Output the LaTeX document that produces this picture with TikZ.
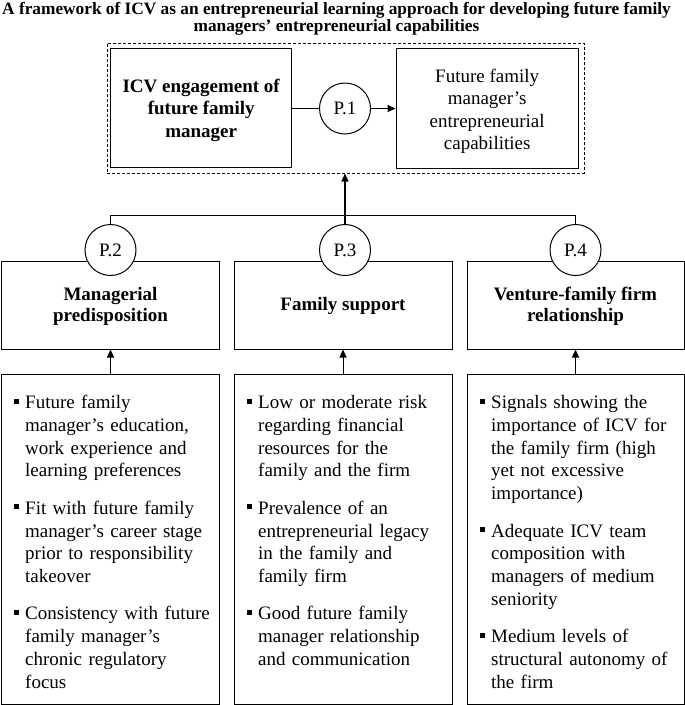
\documentclass[tikz,border=0pt]{standalone}
\usepackage{fontspec}
\setmainfont{Liberation Serif}
\usetikzlibrary{arrows.meta}
\newcommand{\bitem}{\noindent\hangindent=11pt\hangafter=1\makebox[11pt][l]{\rule[5pt]{5pt}{5pt}}}
\newcommand{\igap}{\par\vspace{14.5pt}}
\newcommand{\tstrut}[1]{\rule{0pt}{#1}}
\begin{document}
\begin{tikzpicture}[x=1pt,y=1pt,
  box/.style={draw, line width=1pt, inner sep=0pt},
  ptag/.style={draw, circle, fill=white, line width=1pt, minimum size=51pt, inner sep=0pt, font=\fontsize{19}{23}\selectfont},
  head/.style={align=center, font=\bfseries\fontsize{19}{21.7}\selectfont},
  arr/.style={-{Triangle[length=8pt,width=7pt]}, line width=1pt},
  items/.style={anchor=base west, inner sep=0pt, text width=205pt, align=left, font=\fontsize{19}{22.8}\selectfont}
]
\useasboundingbox (0,0) rectangle (685,-705);

% title
\node[align=center, font=\bfseries\fontsize{17.3}{15.5}\selectfont] (title) at (336.5,-18.6)
  {A framework of ICV as an entrepreneurial learning approach for developing future family\\managers’ entrepreneurial capabilities};

% top frame
\node[draw, dash pattern=on 3pt off 2pt, line width=1pt, minimum width=477pt, minimum height=130pt, inner sep=0pt] (frame) at (345.5,-108) {};
\node[box, align=center, font=\bfseries\fontsize{19}{22.5}\selectfont, minimum width=181pt, minimum height=118.7pt] (icv) at (201.2,-108.3) {\tstrut{17pt}ICV engagement of\\future family\\manager};
\node[box, align=center, font=\fontsize{19}{22.4}\selectfont, minimum width=182.3pt, minimum height=119.3pt] (cap) at (487.2,-108.6) {\tstrut{19pt}Future family\\manager’s\\entrepreneurial\\capabilities};
\node[ptag] (p1) at (345,-108.5) {P.1};
\draw[line width=1pt] (icv.east |- p1.west) -- (p1.west);
\draw[arr] (p1.east) -- (p1.east -| cap.west);

% middle boxes
\node[box, head, minimum width=217.6pt, minimum height=88pt] (m1) at (110.5,-305) {\tstrut{16pt}Managerial\\predisposition};
\node[box, head, minimum width=218pt, minimum height=88pt] (m2) at (343,-305) {\tstrut{16pt}Family support};
\node[box, head, minimum width=217pt, minimum height=88pt] (m3) at (575.5,-305) {\tstrut{16pt}Venture-family firm\\relationship};

\node[ptag] (p2) at (110.5,-250) {P.2};
\node[ptag] (p3) at (345,-250) {P.3};
\node[ptag] (p4) at (575.5,-250) {P.4};

\draw[line width=1pt] (p2.north) -- ++(0,8.8) -| (p4.north);
\draw[arr, line width=1.4pt] (p3.north) -- (p3.north |- frame.south);

% bottom boxes
\node[box, minimum width=217.6pt, minimum height=330pt] (b1) at (110.5,-539) {};
\node[box, minimum width=218pt, minimum height=330pt] (b2) at (343,-539) {};
\node[box, minimum width=217pt, minimum height=330pt] (b3) at (575.5,-539) {};

\draw[arr] (b1.north) -- (m1.south);
\draw[arr] (b2.north) -- (m2.south);
\draw[arr] (b3.north) -- (m3.south);

\node[items] (t1) at (14,-408.5) {%
\bitem Future family\newline manager’s education,\newline work experience and\newline learning preferences\igap
\bitem Fit with future family\newline manager’s career stage\newline prior to responsibility\newline takeover\igap
\bitem Consistency with future\newline family manager’s\newline chronic regulatory\newline focus\par};

\node[items] (t2) at (247,-408.5) {%
\bitem Low or moderate risk\newline regarding financial\newline resources for the\newline family and the firm\igap
\bitem Prevalence of an\newline entrepreneurial legacy\newline in the family and\newline family firm\igap
\bitem Good future family\newline manager relationship\newline and communication\par};

\node[items] (t3) at (480,-408.5) {%
\bitem Signals showing the\newline importance of ICV for\newline the family firm (high\newline yet not excessive\newline importance)\igap
\bitem Adequate ICV team\newline composition with\newline managers of medium\newline seniority\igap
\bitem Medium levels of\newline structural autonomy of\newline the firm\par};
\end{tikzpicture}
\end{document}
